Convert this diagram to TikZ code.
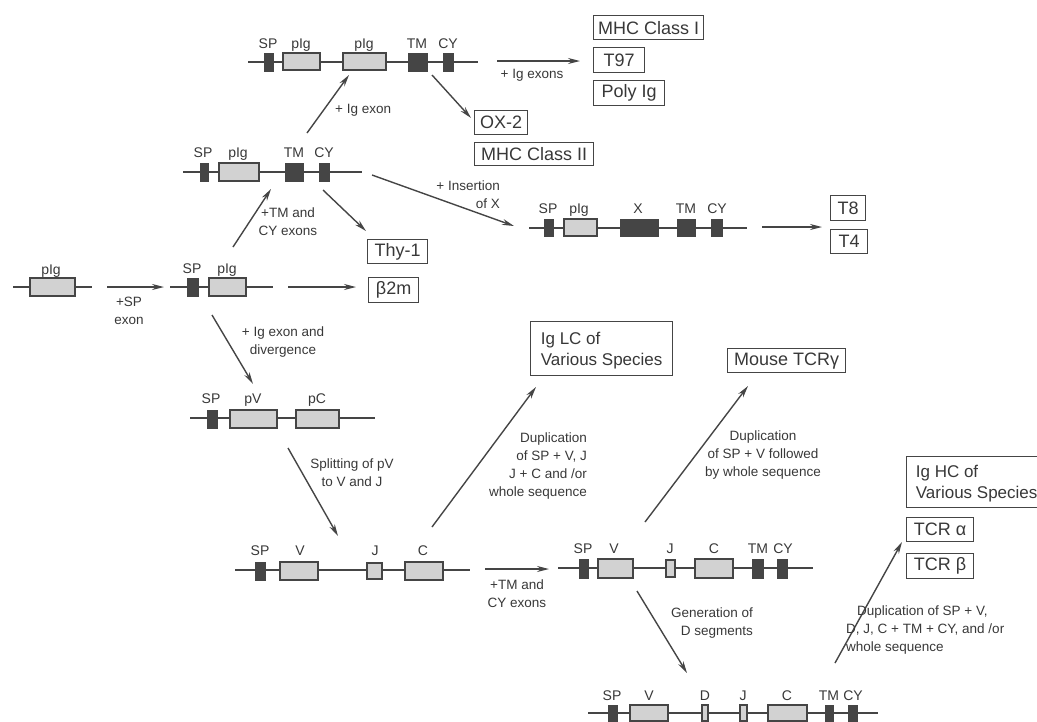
\documentclass[tikz,border=0pt]{standalone}
\usepackage{fontspec}
\setmainfont{Liberation Sans}
\usetikzlibrary{arrows.meta}
\definecolor{ink}{HTML}{454545}
\definecolor{fillL}{HTML}{D2D2D2}
\definecolor{txt}{HTML}{383838}
\begin{document}
\begin{tikzpicture}[x=1pt,y=-1pt,
 gl/.style={draw=ink, line width=1.8pt},
 dex/.style={fill=ink, draw=ink, line width=0.8pt},
 lex/.style={fill=fillL, draw=ink, line width=1.5pt},
 lab/.style={text=txt, font=\fontsize{14}{14}\selectfont, inner sep=0pt, anchor=base},
 note/.style={text=txt, font=\fontsize{13.5}{18}\selectfont, inner sep=0pt, align=center},
 box/.style={draw=ink, line width=1.3pt, text=txt, font=\fontsize{18}{20}\selectfont, inner xsep=3pt, inner ysep=0pt, anchor=north west},
 box2/.style={box, font=\fontsize{17}{21}\selectfont, align=left, text depth=0pt},
 arr/.style={draw=ink, line width=1.4pt, -{Stealth[length=12pt,width=6pt]}},
]
\useasboundingbox (0,0) rectangle (1037,721);

% ---------- gene 0 ----------
\draw[gl] (13,287) -- (92,287);
\draw[lex] (30,278) rectangle (75,296);
\node[lab] (g0a) at (51,274) {pIg};

% ---------- gene 3 (SP pIg) ----------
\draw[gl] (170,287) -- (273,287);
\draw[dex] (187,278) rectangle (198,296);
\draw[lex] (209,278) rectangle (246,296);
\node[lab] (g3a) at (192,273) {SP};
\node[lab] (g3b) at (227,273) {pIg};

% ---------- gene 2 (SP pIg TM CY) ----------
\draw[gl] (183,172) -- (362,172);
\draw[dex] (200,163) rectangle (208,181);
\draw[lex] (219,163) rectangle (259,181);
\draw[dex] (285,163) rectangle (303,181);
\draw[dex] (319,163) rectangle (329,181);
\node[lab] (g2a) at (203,157) {SP};
\node[lab] (g2b) at (238,157) {pIg};
\node[lab] (g2c) at (294,157) {TM};
\node[lab] (g2d) at (324,157) {CY};

% ---------- gene 1 (SP pIg pIg TM CY) ----------
\draw[gl] (248,62) -- (478,62);
\draw[dex] (264,53) rectangle (273,71);
\draw[lex] (283,53) rectangle (320,70);
\draw[lex] (343,53) rectangle (386,70);
\draw[dex] (408,53) rectangle (427,71);
\draw[dex] (443,53) rectangle (453,71);
\node[lab] (g1a) at (268,48) {SP};
\node[lab] (g1b) at (301,48) {pIg};
\node[lab] (g1c) at (364,48) {pIg};
\node[lab] (g1d) at (417,48) {TM};
\node[lab] (g1e) at (448,48) {CY};

% ---------- gene 8 (with X) ----------
\draw[gl] (529,228) -- (747,228);
\draw[dex] (544,219) rectangle (553,236);
\draw[lex] (564,219) rectangle (597,236);
\draw[dex] (620,219) rectangle (658,236);
\draw[dex] (677,219) rectangle (695,236);
\draw[dex] (711,219) rectangle (722,236);
\node[lab] (g8a) at (548,213) {SP};
\node[lab] (g8b) at (579,213) {pIg};
\node[lab] (g8c) at (638,213) {X};
\node[lab] (g8d) at (686,213) {TM};
\node[lab] (g8e) at (717,213) {CY};

% ---------- gene 4 (SP pV pC) ----------
\draw[gl] (190,418) -- (375,418);
\draw[dex] (207,410) rectangle (217,428);
\draw[lex] (230,410) rectangle (277,428);
\draw[lex] (296,410) rectangle (339,428);
\node[lab] (g4a) at (211,403) {SP};
\node[lab] (g4b) at (253,403) {pV};
\node[lab] (g4c) at (317,403) {pC};

% ---------- gene 5 (SP V J C) ----------
\draw[gl] (235,570) -- (470,570);
\draw[dex] (255,562) rectangle (265,580);
\draw[lex] (280,562) rectangle (318,580);
\draw[lex] (367,563) rectangle (382,579);
\draw[lex] (405,562) rectangle (443,580);
\node[lab] (g5a) at (260,555) {SP};
\node[lab] (g5b) at (300,555) {V};
\node[lab] (g5c) at (375,555) {J};
\node[lab] (g5d) at (423,555) {C};

% ---------- gene 6 (SP V J C TM CY) ----------
\draw[gl] (558,568) -- (813,568);
\draw[dex] (579,559) rectangle (588,578);
\draw[lex] (598,559) rectangle (633,578);
\draw[lex] (666,560) rectangle (675,577);
\draw[lex] (695,559) rectangle (733,578);
\draw[dex] (752,559) rectangle (763,578);
\draw[dex] (777,559) rectangle (787,578);
\node[lab] (g6a) at (583,553) {SP};
\node[lab] (g6b) at (614,553) {V};
\node[lab] (g6c) at (670,553) {J};
\node[lab] (g6d) at (714,553) {C};
\node[lab] (g6e) at (758,553) {TM};
\node[lab] (g6f) at (783,553) {CY};

% ---------- gene 7 (SP V D J C TM CY) ----------
\draw[gl] (588,713) -- (878,713);
\draw[dex] (608,705) rectangle (617,721);
\draw[lex] (630,705) rectangle (668,721);
\draw[lex] (702,705) rectangle (708,721);
\draw[lex] (740,705) rectangle (747,721);
\draw[lex] (768,705) rectangle (807,721);
\draw[dex] (825,705) rectangle (833,721);
\draw[dex] (848,705) rectangle (857,721);
\node[lab] (g7a) at (612,700) {SP};
\node[lab] (g7b) at (649,700) {V};
\node[lab] (g7c) at (705,700) {D};
\node[lab] (g7d) at (743,700) {J};
\node[lab] (g7e) at (787,700) {C};
\node[lab] (g7f) at (829,700) {TM};
\node[lab] (g7g) at (853,700) {CY};

% ---------- product boxes ----------
\node[box, minimum width=110pt, minimum height=24pt] (mhc1) at (593,15) {MHC Class I};
\node[box, minimum width=51pt, minimum height=25pt] (t97) at (593,47) {T97};
\node[box, minimum width=71pt, minimum height=25pt] (polyig) at (593,80) {Poly Ig};
\node[box, minimum width=53pt, minimum height=24pt] (ox2) at (474,110) {OX-2};
\node[box, minimum width=119pt, minimum height=23pt] (mhc2) at (474,142) {MHC Class II};
\node[box, minimum width=60pt, minimum height=24pt] (thy1) at (367,239) {Thy-1};
\node[box, minimum width=50pt, minimum height=25pt] (b2m) at (368,277) {β2m};
\node[box, minimum width=35pt, minimum height=25pt] (t8) at (830,195) {T8};
\node[box, minimum width=37pt, minimum height=24pt] (t4) at (830,229) {T4};
\node[box2, minimum width=142pt, minimum height=54pt] (iglc) at (530,321) {Ig LC of\\Various Species};
\node[box, minimum width=118pt, minimum height=24pt] (tcrg) at (727,348) {Mouse TCRγ};
\node[box2, minimum width=140pt, minimum height=51pt] (ighc) at (906,456) {Ig HC of\\Various Species};
\node[box, minimum width=67pt, minimum height=24pt] (tcra) at (906,517) {TCR α};
\node[box, minimum width=67pt, minimum height=25pt] (tcrb) at (906,553) {TCR β};

% ---------- arrow end points ----------
\coordinate (a1s) at (307,133); \coordinate (a1e) at (349,75);
\coordinate (a2s) at (432,75);  \coordinate (a2e) at (471,118);
\coordinate (a3s) at (497,61);  \coordinate (a3e) at (580,61);
\coordinate (a4s) at (323,190); \coordinate (a4e) at (366,231);
\coordinate (a5s) at (372,175); \coordinate (a5e) at (514,226);
\coordinate (a6s) at (762,227); \coordinate (a6e) at (822,227);
\coordinate (a7s) at (107,287); \coordinate (a7e) at (164,287);
\coordinate (a8s) at (288,287); \coordinate (a8e) at (356,287);
\coordinate (a9s) at (233,247); \coordinate (a9e) at (271,189);
\coordinate (a10s) at (212,315); \coordinate (a10e) at (253,384);
\coordinate (a11s) at (288,448); \coordinate (a11e) at (338,536);
\coordinate (a12s) at (432,527); \coordinate (a12e) at (536,387);
\coordinate (a13s) at (485,569); \coordinate (a13e) at (549,569);
\coordinate (a14s) at (645,522); \coordinate (a14e) at (748,386);
\coordinate (a15s) at (637,591); \coordinate (a15e) at (687,673);
\coordinate (a16s) at (835,663); \coordinate (a16e) at (902,542);

\draw[arr] (a1s) -- (a1e);
\draw[arr] (a2s) -- (a2e);
\draw[arr] (a3s) -- (a3e);
\draw[arr] (a4s) -- (a4e);
\draw[arr] (a5s) -- (a5e);
\draw[arr] (a6s) -- (a6e);
\draw[arr] (a7s) -- (a7e);
\draw[arr] (a8s) -- (a8e);
\draw[arr] (a9s) -- (a9e);
\draw[arr] (a10s) -- (a10e);
\draw[arr] (a11s) -- (a11e);
\draw[arr] (a12s) -- (a12e);
\draw[arr] (a13s) -- (a13e);
\draw[arr] (a14s) -- (a14e);
\draw[arr] (a15s) -- (a15e);
\draw[arr] (a16s) -- (a16e);

% ---------- arrow labels ----------
\node[note, anchor=west] (l1) at (335,110) {+ Ig exon};
\node[note] (l3) at (532,75) {+ Ig exons};
\node[note, align=right, anchor=east] (l5) at (500,195) {+ Insertion\\of X};
\node[note] (l7) at (129,311) {+SP\\exon};
\node[note] (l9) at (288,222) {+TM and\\CY exons};
\node[note] (l10) at (283,342) {+ Ig exon and\\divergence};
\node[note] (l11) at (352,473) {Splitting of pV\\to V and J};
\node[note, align=right, anchor=east] (l12) at (587,466) {Duplication\\of SP + V, J\\J + C and /or\\whole sequence};
\node[note] (l13) at (517,594) {+TM and\\CY exons};
\node[note] (l14) at (763,455) {Duplication\\of SP + V followed\\by whole sequence};
\node[note, align=right, anchor=east] (l15) at (753,623) {Generation of\\D segments};
\node[note, align=left, anchor=west] (l16) at (846,630) {\hspace*{11pt}Duplication of SP + V,\\D, J, C + TM + CY, and /or\\whole sequence};
\end{tikzpicture}
\end{document}
